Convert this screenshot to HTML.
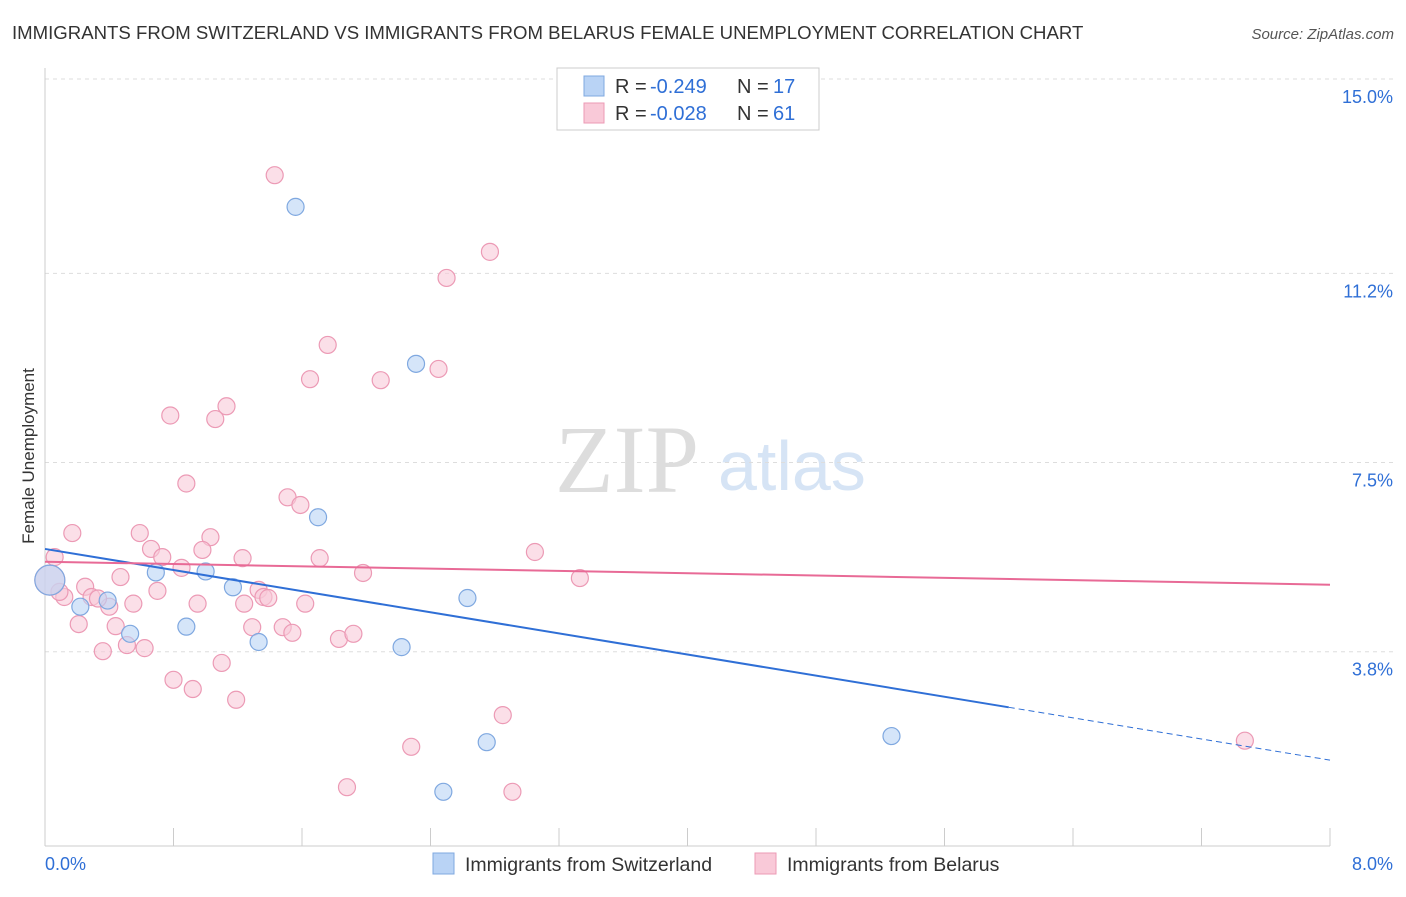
<!DOCTYPE html>
<html><head><meta charset="utf-8"><style>
body{margin:0;background:#fff;font-family:"Liberation Sans",sans-serif;}
</style></head><body>
<svg id="c" width="1406" height="892" xmlns="http://www.w3.org/2000/svg">
<text x="12" y="39" font-size="18.6" fill="#333">IMMIGRANTS FROM SWITZERLAND VS IMMIGRANTS FROM BELARUS FEMALE UNEMPLOYMENT CORRELATION CHART</text>
<text x="1394" y="39" font-size="15" fill="#555" font-style="italic" text-anchor="end">Source: ZipAtlas.com</text>
<text x="34" y="456" font-size="17" fill="#333" transform="rotate(-90 34 456)" text-anchor="middle">Female Unemployment</text>
<text x="555" y="492" font-size="96" fill="#ddd" font-family="Liberation Serif,serif">ZIP</text>
<text x="718" y="490" font-size="70" fill="#d6e4f5">atlas</text>
<g id="grid"></g><g id="pts"></g><g id="lines"></g>
<g>
<rect x="557" y="68" width="262" height="62" fill="#fff" stroke="#ccc"/>
<rect x="584" y="76" width="20" height="20" fill="#b9d3f5" stroke="#7fa8e0"/>
<rect x="584" y="103" width="20" height="20" fill="#f9c9d8" stroke="#ec9ab5"/>
<text x="615" y="93" font-size="20" fill="#333">R = </text><text x="650" y="93" font-size="20" fill="#2f6fd6">-0.249</text>
<text x="737" y="93" font-size="20" fill="#333">N = </text><text x="773" y="93" font-size="20" fill="#2f6fd6">17</text>
<text x="615" y="120" font-size="20" fill="#333">R = </text><text x="650" y="120" font-size="20" fill="#2f6fd6">-0.028</text>
<text x="737" y="120" font-size="20" fill="#333">N = </text><text x="773" y="120" font-size="20" fill="#2f6fd6">61</text>
</g>
<g>
<rect x="433" y="853" width="21" height="21" fill="#b9d3f5" stroke="#7fa8e0"/>
<text x="465" y="871" font-size="19.5" fill="#333">Immigrants from Switzerland</text>
<rect x="755" y="853" width="21" height="21" fill="#f9c9d8" stroke="#ec9ab5"/>
<text x="787" y="871" font-size="19.5" fill="#333">Immigrants from Belarus</text>
</g>
<text x="45" y="870" font-size="18" fill="#2f6fd6">0.0%</text>
<text x="1393" y="870" font-size="18" fill="#2f6fd6" text-anchor="end">8.0%</text>
</svg>
<script>
const yTicks=[15.0,11.2,7.5,3.8];
const yTickLabels=["15.0%","11.2%","7.5%","3.8%"];
const blueX=[1.56,2.31,1.70,0.69,1.00,1.17,0.22,0.39,0.53,0.88,1.33,2.22,2.63,2.75,2.48,5.27,0.03];
const blueY=[12.5,9.43,6.43,5.35,5.37,5.06,4.68,4.80,4.15,4.29,3.99,3.89,4.85,2.03,1.06,2.15,5.2];
const pinkX=[1.43,2.77,2.50,1.76,1.65,2.09,2.45,0.78,1.13,1.06,0.88,1.51,1.59,0.17,0.59,1.03,0.66,0.98,0.73,1.23,1.71,0.85,1.98,3.05,3.33,0.06,0.47,0.25,0.70,0.95,0.55,0.12,0.29,0.40,1.24,1.33,1.36,1.39,1.62,0.21,0.44,1.29,1.48,1.54,1.83,1.92,0.36,0.51,0.62,1.10,0.80,0.92,1.19,2.85,2.28,1.88,2.91,7.47,0.09,0.03,0.33];
const pinkY=[13.12,11.62,11.11,9.80,9.13,9.11,9.33,8.42,8.60,8.35,7.09,6.82,6.67,6.12,6.12,6.04,5.81,5.79,5.65,5.63,5.63,5.44,5.34,5.75,5.24,5.65,5.26,5.07,4.99,4.74,4.74,4.87,4.87,4.68,4.74,5.01,4.87,4.85,4.74,4.34,4.30,4.28,4.28,4.17,4.05,4.15,3.81,3.93,3.87,3.58,3.25,3.07,2.86,2.56,1.94,1.15,1.06,2.06,4.97,5.2,4.84];
const blueTrend=[5.81,1.68];
const pinkTrend=[5.56,5.11];
const NS="http://www.w3.org/2000/svg";
const X=v=>45+v/8*1285, Y=v=>846-v*51.13;
function mk(t,a,p){const e=document.createElementNS(NS,t);for(const k in a)e.setAttribute(k,a[k]);p.appendChild(e);return e;}
const g=document.getElementById('grid');
yTicks.forEach((t,i)=>{
 const l=mk('line',{x1:45,x2:1393,y1:Y(t),y2:Y(t),stroke:'#ddd','stroke-dasharray':'4,4'},g);
 
 
 const tx=mk('text',{x:1393,y:Y(t)+24,'font-size':18,fill:'#2f6fd6','text-anchor':'end'},g);
 tx.textContent=yTickLabels[i];
 
 
});
mk('line',{x1:45,x2:45,y1:68,y2:846,stroke:'#ccc'},g);
mk('line',{x1:45,x2:1330,y1:846,y2:846,stroke:'#ccc'},g);
for(let i=0;i<=10;i++){const x=45+i*128.5;const t=mk('line',{x1:x,x2:x,y1:828,y2:846,stroke:'#ccc'},g);
 
 }
const p=document.getElementById('pts');
pinkX.forEach((v,i)=>{const big=i==59;const c=mk('circle',{cx:X(v),cy:Y(pinkY[i]),r:big?15:8.5,fill:'#f9c9d8','fill-opacity':0.6,stroke:'#ec9ab5','stroke-width':1.2},p);
 
 });
blueX.forEach((v,i)=>{const big=i==16;const c=mk('circle',{cx:X(v),cy:Y(blueY[i]),r:big?15:8.5,fill:'#b9d3f5','fill-opacity':0.6,stroke:'#7fa8e0','stroke-width':1.2},p);
 
 });
const L=document.getElementById('lines');
const by=x=>blueTrend[0]+(blueTrend[1]-blueTrend[0])*x/8;
let a=mk('line',{x1:X(0),y1:Y(by(0)),x2:X(6),y2:Y(by(6)),stroke:'#2f6fd6','stroke-width':2},L);


a=mk('line',{x1:X(6),y1:Y(by(6)),x2:X(8),y2:Y(by(8)),stroke:'#2f6fd6','stroke-width':1,'stroke-dasharray':'6,4'},L);


a=mk('line',{x1:X(0),y1:Y(pinkTrend[0]),x2:X(8),y2:Y(pinkTrend[1]),stroke:'#e86a96','stroke-width':2},L);


</script>
</body></html>
